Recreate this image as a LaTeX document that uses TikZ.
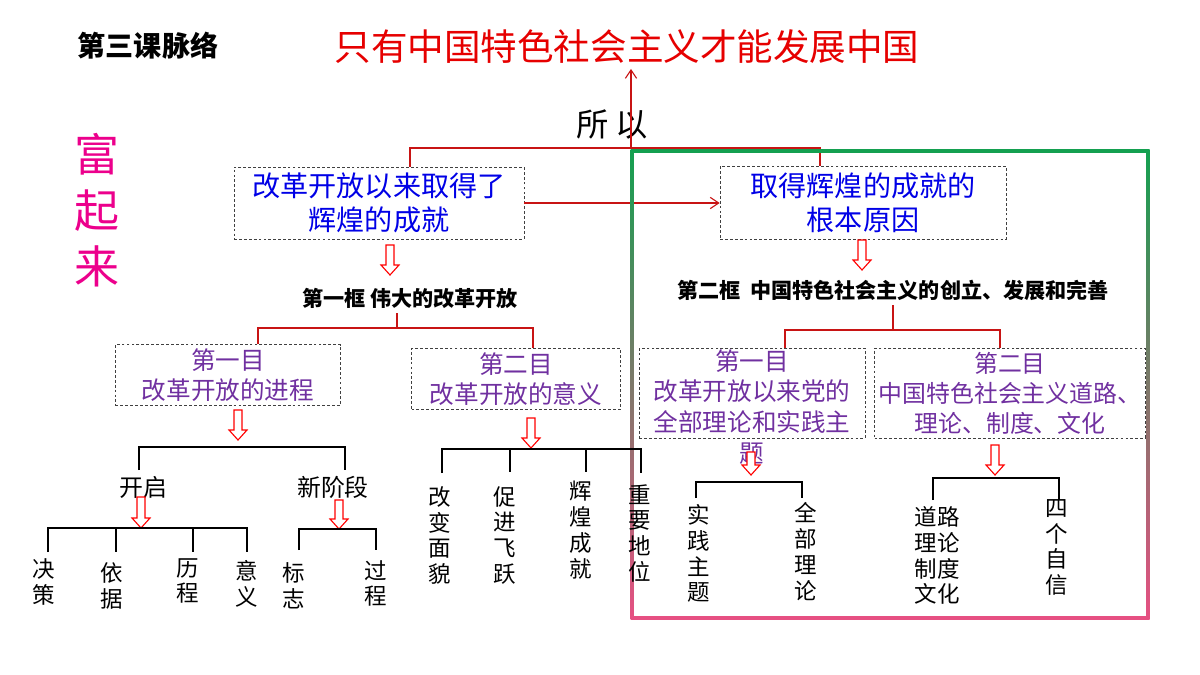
\documentclass[tikz,border=0pt]{standalone}
\usepackage{fontspec}
\setmainfont{Noto Sans CJK SC}
\usetikzlibrary{arrows.meta}
\definecolor{titlered}{RGB}{230,0,0}
\definecolor{linered}{RGB}{200,20,20}
\definecolor{boxblue}{RGB}{0,0,230}
\definecolor{mupurple}{RGB}{112,48,160}
\definecolor{framegreen}{RGB}{20,160,80}
\definecolor{framepink}{RGB}{230,80,130}
\newcommand{\fs}[1]{\fontsize{#1}{1.2\dimexpr #1pt\relax}\selectfont}
\newcommand{\fsl}[2]{\fontsize{#2}{#1\dimexpr #2pt\relax}\selectfont}
% hollow down arrow: x, top y, tip y
\newcommand{\hollowdown}[3]{\draw[red, line width=0.8pt, fill=white]
  (#1-4,#2) -- (#1+4,#2) -- (#1+4,#3-10) -- (#1+9,#3-10) -- (#1,#3)
  -- (#1-9,#3-10) -- (#1-4,#3-10) -- cycle;}
\tikzset{
  dbox/.style={draw=black!75, dash pattern=on 2pt off 1.5pt, line width=0.5pt,
    inner sep=0pt, align=center},
  redline/.style={linered, line width=0.8pt},
  brk/.style={black, line width=2pt},
  vlabel/.style={align=center, anchor=north, inner sep=0pt, font=\fsl{1.15}{16}},
}
\begin{document}
\begin{tikzpicture}[x=0.025cm, y=-0.025cm]
    \useasboundingbox (0,0) rectangle (1200,675);

    % --- Kopfzeile ---
    \node[font=\fs{20}\bfseries] (lesson) at (148,46) {第三课脉络};
    \node[titlered, font=\fs{26}] (title) at (627,47) {只有中国特色社会主义才能发展中国};
    \node[font=\fs{23}] (suoyi) at (612,125) {所\ 以};
    \node[magenta, font=\fsl{1.25}{32}, align=center, anchor=north] (fu) at (97,128)
      {富\\起\\来};

    % --- Obere Kästen ---
    \node[dbox, minimum width=290*0.025cm, minimum height=72*0.025cm,
      text=boxblue, font=\fs{20}] (achieve) at (379,203) {改革开放以来取得了\\辉煌的成就};
    \node[dbox, minimum width=286*0.025cm, minimum height=73*0.025cm,
      text=boxblue, font=\fs{20}] (reason) at (863,203) {取得辉煌的成就的\\根本原因};
    \draw[redline] (achieve.north -| 410,0) -- (410,148) -- (820,148) -- (reason.north -| 820,0);
    \draw[redline, -{Straight Barb[length=6pt,width=8pt]}] (631,148) -- (title.south -| 631,0);
    \draw[redline, -{Straight Barb[length=6pt,width=8pt]}] (achieve.east) -- (reason.west);

    \hollowdown{390}{245}{275}
    \hollowdown{862}{240}{270}

    % --- Rahmen ---
    \draw[framegreen, line width=2.5pt] (632,151) -- (1148,151);
    \draw[framepink, line width=2.5pt] (632,618) -- (1148,618);
    \shade[top color=framegreen, bottom color=framepink] (630.5,149.5) rectangle (633.5,619.5);
    \shade[top color=framegreen, bottom color=framepink] (1146.5,149.5) rectangle (1149.5,619.5);

    % --- Erste und zweite Rahmen ---
    \node[font=\fs{15}\bfseries] (frame1) at (410,298) {第一框\ 伟大的改革开放};
    \node[font=\fs{15}\bfseries] (frame2) at (893,290) {第二框\ \ 中国特色社会主义的创立、发展和完善};

    \node[dbox, minimum width=225*0.025cm, minimum height=61*0.025cm,
      text=mupurple, font=\fs{17.5}] (l1) at (228,375) {第一目\\改革开放的进程};
    \node[dbox, minimum width=209*0.025cm, minimum height=61*0.025cm,
      text=mupurple, font=\fs{17.5}] (l2) at (516,379) {第二目\\改革开放的意义};
    \node[dbox, minimum width=226*0.025cm, minimum height=90*0.025cm,
      anchor=north] (r1) at (752,348) {};
    \node[text=mupurple, font=\fsl{1.25}{17.5}, align=center, anchor=north, inner sep=0pt] (r1t) at (752,349)
      {第一目\\改革开放以来党的\\全部理论和实践主\\题};
    \node[dbox, minimum width=271*0.025cm, minimum height=90*0.025cm,
      text=mupurple, font=\fsl{1.25}{17}] (r2) at (1010,393) {第二目\\中国特色社会主义道路、\\理论、制度、文化};

    \draw[redline] (frame1.south -| 397,0) -- (397,328);
    \draw[redline] (l1.north -| 258,0) -- (258,328) -- (533,328) -- (l2.north -| 533,0);
    \draw[redline] (frame2.south -| 893,0) -- (893,330);
    \draw[redline] (r1.north -| 785,0) -- (785,330) -- (1000,330) -- (r2.north -| 1000,0);

    \hollowdown{238}{410}{440}
    \hollowdown{531}{418}{448}
    \hollowdown{751}{452}{475}
    \hollowdown{995}{445}{475}

    % --- Unterste Ebene, links ---
    \draw[brk] (139,470) -- (139,447) -- (345,447) -- (345,470);
    \node[font=\fs{17}] (open) at (143,487) {开启};
    \node[font=\fs{17}] (stage) at (333,487) {新阶段};
    \hollowdown{141}{497}{528}
    \hollowdown{339}{500}{529}
    \draw[brk] (48,552) -- (48,528) -- (247,528) -- (247,552);
    \draw[brk] (116,528) -- (116,552);
    \draw[brk] (193,528) -- (193,552);
    \draw[brk] (299,550) -- (299,529) -- (376,529) -- (376,550);
    \node[vlabel] (d1) at (44,558) {决\\策};
    \node[vlabel] (d2) at (112,562) {依\\据};
    \node[vlabel] (d3) at (188,558) {历\\程};
    \node[vlabel] (d4) at (247,560) {意\\义};
    \node[vlabel] (d5) at (294,562) {标\\志};
    \node[vlabel] (d6) at (376,560) {过\\程};

    \draw[brk] (442,473) -- (442,449) -- (641,449) -- (641,473);
    \draw[brk] (510,449) -- (510,472);
    \draw[brk] (586,449) -- (586,472);
    \node[vlabel] (m1) at (440,486) {改\\变\\面\\貌};
    \node[vlabel] (m2) at (505,486) {促\\进\\飞\\跃};
    \node[vlabel] (m3) at (581,481) {辉\\煌\\成\\就};
    \node[vlabel] (m4) at (640,484) {重\\要\\地\\位};

    % --- Unterste Ebene, rechts ---
    \draw[brk] (696,498) -- (696,482) -- (802,482) -- (802,498);
    \node[vlabel] (t1) at (699,504) {实\\践\\主\\题};
    \node[vlabel] (t2) at (806,502) {全\\部\\理\\论};
    \draw[brk] (933,500) -- (933,478) -- (1059,478) -- (1059,500);
    \node[vlabel] (c1) at (937,506) {道路\\理论\\制度\\文化};
    \node[vlabel] (c2) at (1057,499) {四\\个\\自\\信};
\end{tikzpicture}
\end{document}
